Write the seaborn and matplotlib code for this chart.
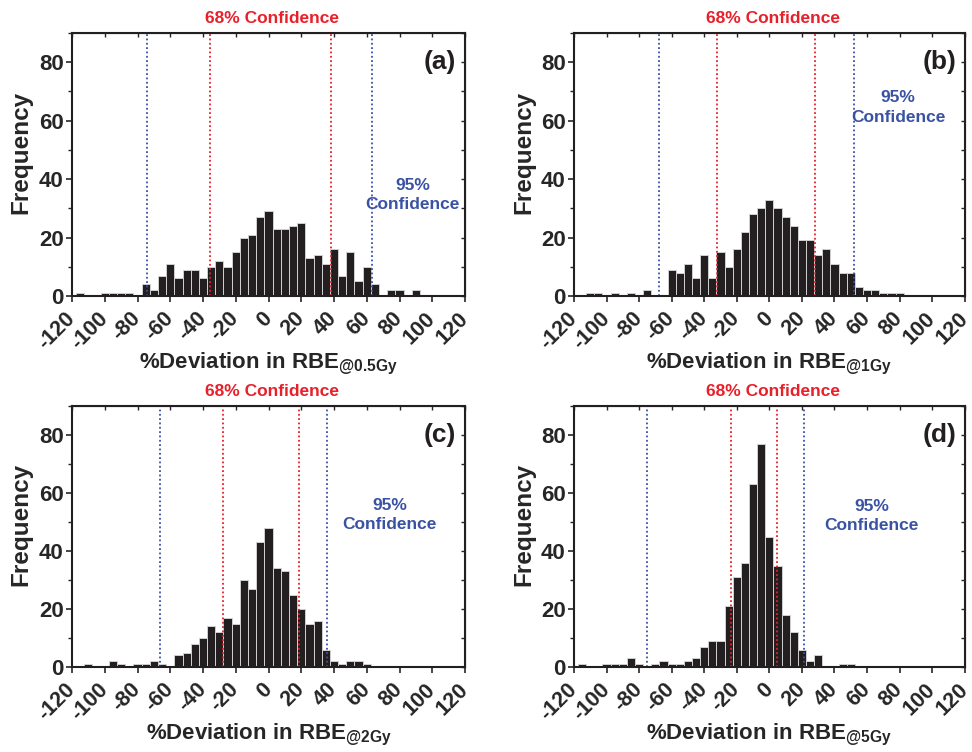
import numpy as np
import pandas as pd
import seaborn as sns
import matplotlib.pyplot as plt
from matplotlib.ticker import MultipleLocator

# bin centres (width 5) and counts
centers_a = [-115, -100, -95, -90, -85, -75, -70, -65, -60, -55, -50, -45, -40, -35, -30, -25, -20, -15, -10, -5,
             0, 5, 10, 15, 20, 25, 30, 35, 40, 45, 50, 55, 60, 65, 75, 80, 90]
counts_a = [1, 1, 1, 1, 1, 4, 2, 7, 11, 6, 9, 9, 6, 10, 12, 10, 15, 20, 21, 27,
            29, 23, 23, 24, 25, 13, 14, 11, 16, 7, 15, 5, 10, 4, 2, 2, 2]

centers_b = [-110, -105, -95, -85, -75, -60, -55, -50, -45, -40, -35, -30, -25, -20, -15, -10, -5,
             0, 5, 10, 15, 20, 25, 30, 35, 40, 45, 50, 55, 60, 65, 70, 75, 80]
counts_b = [1, 1, 1, 1, 2, 9, 8, 11, 6, 14, 6, 15, 10, 16, 22, 28, 30,
            33, 30, 27, 24, 19, 19, 14, 16, 11, 8, 8, 3, 2, 2, 1, 1, 1]

centers_c = [-110, -95, -90, -80, -75, -70, -65, -55, -50, -45, -40, -35, -30, -25, -20, -15, -10, -5,
             0, 5, 10, 15, 20, 25, 30, 35, 40, 45, 50, 55, 60]
counts_c = [1, 2, 1, 1, 1, 2, 1, 4, 5, 8, 10, 14, 12, 17, 15, 30, 27, 43,
            48, 34, 33, 25, 20, 15, 16, 6, 2, 1, 2, 2, 1]

centers_d = [-115, -100, -95, -90, -85, -80, -70, -65, -60, -55, -50, -45, -40, -35, -30, -25, -20, -15, -10, -5,
             0, 5, 10, 15, 20, 25, 30, 45, 50]
counts_d = [1, 1, 1, 1, 3, 1, 1, 2, 1, 1, 2, 3, 7, 9, 9, 21, 31, 36, 63, 77,
            45, 35, 18, 12, 6, 2, 4, 1, 1]

# confidence bounds (% deviation)
ci68 = [(-36, 38), (-32, 28), (-28, 18.5), (-23.5, 4.5)]
ci95 = [(-74, 63), (-68, 52), (-66.5, 36), (-75, 21)]
ci95_text_xy = [(88, 34.5), (79, 64.5), (74, 52.5), (63, 52)]

panel_labels = ['(a)', '(b)', '(c)', '(d)']
dose_labels = ['0.5Gy', '1Gy', '2Gy', '5Gy']
x_ticks = list(range(-120, 121, 20))
y_ticks = [0, 20, 40, 60, 80]

sns.set_style('ticks')
plt.rcParams['font.family'] = ['Liberation Sans', 'DejaVu Sans']
plt.rcParams['font.weight'] = 'bold'
plt.rcParams['mathtext.fontset'] = 'custom'
plt.rcParams['mathtext.bf'] = 'Liberation Sans:bold'
plt.rcParams['mathtext.rm'] = 'Liberation Sans:bold'

RED = '#e8202a'
BLUE = '#3a52a3'

fig = plt.figure(figsize=(9.72, 7.52), dpi=100)
positions = [(0.0741, 0.6064, 0.4043, 0.3497), (0.5905, 0.6064, 0.4020, 0.3497),
             (0.0741, 0.1130, 0.4043, 0.3471), (0.5905, 0.1130, 0.4020, 0.3471)]

data = [(centers_a, counts_a), (centers_b, counts_b), (centers_c, counts_c), (centers_d, counts_d)]

for i, (cen, cnt) in enumerate(data):
    ax = fig.add_axes(positions[i])
    df = pd.DataFrame({'dev': cen, 'n': cnt})
    sns.histplot(data=df, x='dev', weights='n', binwidth=5, binrange=(-122.5, 122.5), ax=ax,
                 color='#231f20', edgecolor='#d0d0d0', linewidth=0.7, alpha=1)

    for v in ci68[i]:
        ax.axvline(v, color=RED, linestyle=(0, (1, 1.4)), linewidth=1.3)
    for v in ci95[i]:
        ax.axvline(v, color=BLUE, linestyle=(0, (1, 1.4)), linewidth=1.3)

    ax.set_xlim(-120, 120)
    ax.set_ylim(0, 90)
    ax.set_xticks(x_ticks)
    ax.set_xticklabels([str(t) for t in x_ticks], rotation=45, ha='right', va='center',
                       rotation_mode='anchor', fontsize=15.5, fontweight='bold')
    ax.set_yticks(y_ticks)
    ax.set_yticklabels([str(t) for t in y_ticks], fontsize=16, fontweight='bold')
    ax.yaxis.set_minor_locator(MultipleLocator(10))
    ax.tick_params(axis='x', which='major', direction='out', length=4, width=1.2, pad=10)
    ax.tick_params(axis='y', which='major', direction='out', length=4, width=1.2, pad=2)
    ax.tick_params(axis='y', which='minor', direction='out', length=3, width=1)
    for s in ax.spines.values():
        s.set_linewidth(1.5)
        s.set_color('#231f20')

    # mirrored inward ticks on top and right
    sec_y = ax.secondary_yaxis('right')
    sec_y.set_yticks(y_ticks)
    sec_y.yaxis.set_minor_locator(MultipleLocator(10))
    sec_y.tick_params(which='both', direction='in', length=3, width=1, labelright=False)
    sec_x = ax.secondary_xaxis('top')
    sec_x.set_xticks(x_ticks)
    sec_x.tick_params(direction='in', length=3, width=1, labeltop=False)

    ax.set_ylabel('Frequency', fontsize=17.5, fontweight='bold')
    ax.yaxis.set_label_coords(-0.100, 0.545)
    ax.set_xlabel('%Deviation in RBE$_{\\mathbf{@' + dose_labels[i] + '}}$',
                  fontsize=16, fontweight='bold', labelpad=-2)

    ax.text(0.51, 1.057, '68% Confidence', transform=ax.transAxes, color=RED,
            fontsize=12.5, fontweight='bold', ha='center', va='center')
    tx, ty = ci95_text_xy[i]
    ax.text(tx, ty, '95%\nConfidence', color=BLUE, fontsize=12.5, fontweight='bold',
            ha='center', va='center', linespacing=1.35)
    ax.text(0.935, 0.89, panel_labels[i], transform=ax.transAxes, fontsize=19,
            fontweight='bold', ha='center', va='center', color='#231f20')

fig.savefig('out.png', dpi=100)
